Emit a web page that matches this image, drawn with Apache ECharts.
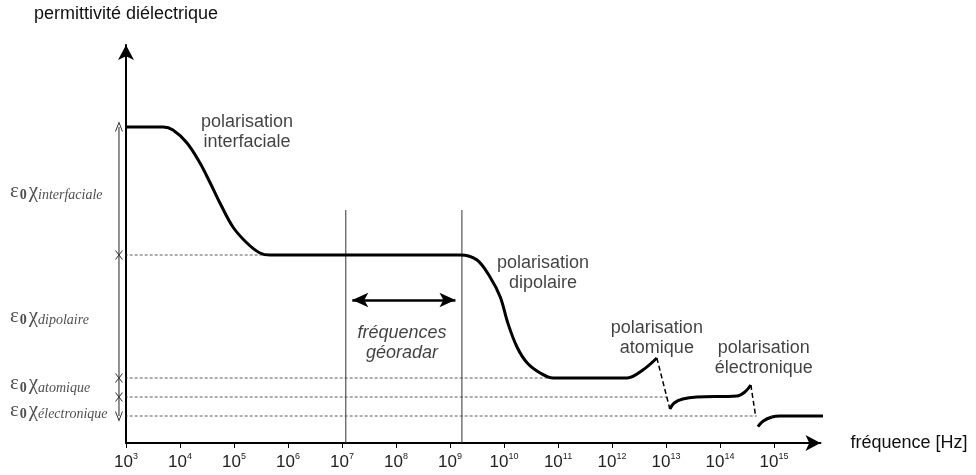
<!DOCTYPE html>
<html><head><meta charset="utf-8">
<script src="https://cdn.jsdelivr.net/npm/echarts@6/dist/echarts.min.js"></script>
<style>html,body{margin:0;padding:0;background:#fff}#c{width:976px;height:475px}</style>
</head><body><div id="c"></div><script>
// x values are log10(frequency in Hz)
const exponents = [3, 4, 5, 6, 7, 8, 9, 10, 11, 12, 13, 14, 15];
const levelNames = ['interfaciale', 'dipolaire', 'atomique', 'électronique'];
const levelValues = [79, 47, 16.25, 11.5, 6.75];
const levelLineEnds = [3, 9.19, 10.8, 13.07, 14.68];
const mainCurveX = [3, 3.69, 3.87, 4.13, 4.37, 4.56, 4.74, 4.98, 5.24, 5.48, 5.67, 9.19, 9.5, 9.74, 9.93, 10.07, 10.24, 10.43, 10.67, 10.91, 12.28, 12.57, 12.83];
const mainCurveY = [79, 79, 78.25, 75, 70, 65, 60, 54, 50, 47.5, 47, 47, 45.75, 41.5, 36.5, 30, 24, 20, 17.5, 16.25, 16.25, 18.25, 21.25];
const atomicDropX = [12.83, 13.07];
const atomicDropY = [21.25, 8.5];
const electronicCurveX = [13.07, 13.15, 13.31, 13.57, 14.31, 14.46, 14.57];
const electronicCurveY = [8.5, 10, 11, 11.5, 11.75, 12.75, 14.5];
const electronicDropX = [14.57, 14.66];
const electronicDropY = [14.5, 6.6];
const finalCurveX = [14.7, 14.8, 14.96, 15.11, 15.94];
const finalCurveY = [4.1, 5.5, 6.5, 6.75, 6.75];
const georadarX = [7.07, 9.22];
const georadarTop = 58.25;
const georadarArrowY = 35.75;
const annotationTexts = ['polarisation\ninterfaciale', 'polarisation\ndipolaire', 'polarisation\natomique', 'polarisation\nélectronique', 'fréquences\ngéoradar'];

const seg = (xs, ys) => xs.map((x, i) => [x, ys[i]]);
const mids = levelNames.map((_, i) => (levelValues[i] + levelValues[i + 1]) / 2);
const SANS = 'Liberation Sans, Arial, sans-serif';
const SERIF = 'Liberation Serif, Times New Roman, serif';

const curveStyle = { color: '#000', width: 3 };
const series = [];
function addLine(data, lineStyle, extra) {
  series.push(Object.assign({ type: 'line', data, symbol: 'none', clip: false, silent: true, lineStyle, animation: false }, extra || {}));
}
addLine(seg(mainCurveX, mainCurveY), curveStyle, { smooth: 0.35, z: 5 });
addLine(seg(atomicDropX, atomicDropY), { color: '#000', width: 1.5, type: [5, 3] }, { z: 5 });
addLine(seg(electronicCurveX, electronicCurveY), curveStyle, { smooth: 0.35, z: 5 });
addLine(seg(electronicDropX, electronicDropY), { color: '#000', width: 1.5, type: [5, 3] }, { z: 5 });
addLine(seg(finalCurveX, finalCurveY), curveStyle, { smooth: 0.35, z: 5 });
levelValues.forEach((v, i) => {
  addLine([[2.79, v], [levelLineEnds[i], v]], { color: '#333', width: 0.8, type: [3, 2] }, { z: 2 });
});
// dimension line on the left, with its marks
const dimX = 2.87;
const lastLevel = levelValues[levelValues.length - 1];
series.push({
  type: 'custom', clip: false, silent: true, animation: false, z: 3,
  data: [[dimX, levelValues[0], lastLevel]],
  renderItem: (params, api) => {
    const p1 = api.coord([api.value(0), api.value(1)]);
    const p2 = api.coord([api.value(0), api.value(2)]);
    return { type: 'line', shape: { x1: p1[0], y1: p1[1], x2: p2[0], y2: p2[1] }, style: { stroke: '#222', lineWidth: 1 } };
  }
});
const xMark = 'path://M0,0L10,12M10,0L0,12';
series.push({
  type: 'scatter', clip: false, silent: true, animation: false, z: 4,
  data: levelValues.map((v, i) => ({
    value: [dimX, v],
    symbol: i === 0 ? 'path://M0,12L5,0L10,12' : (i === levelValues.length - 1 ? 'path://M0,0L5,12L10,0' : xMark)
  })),
  symbolSize: [7, 9],
  itemStyle: { color: 'rgba(0,0,0,0)', borderColor: '#222', borderWidth: 0.9, opacity: 1 }
});
georadarX.forEach(x => addLine([[x, 0], [x, georadarTop]], { color: '#333', width: 1 }, { z: 2 }));
series.push({
  type: 'line', data: [], silent: true, animation: false,
  markLine: {
    silent: true, animation: false,
    symbol: ['arrow', 'arrow'], symbolSize: [11, 16],
    label: { show: false },
    lineStyle: { color: '#000', width: 2.5, type: 'solid' },
    data: [[{ coord: [georadarX[0] + 0.12, georadarArrowY] }, { coord: [georadarX[1] - 0.12, georadarArrowY] }]]
  }
});
const annPos = [[5.24, 77.75], [10.72, 42.5], [12.83, 26.25], [14.81, 21.25], [8.11, 25]];
series.push({
  type: 'scatter', symbolSize: 0, silent: true, animation: false, clip: false,
  data: annotationTexts.map((t, i) => ({ value: annPos[i], name: t })),
  label: {
    show: true, position: 'inside', formatter: p => p.name,
    fontFamily: SANS, fontSize: 18, lineHeight: 20, color: '#111',
  }
});
series[series.length - 1].data[4].label = { fontStyle: 'italic' };
// ε0χ labels between the levels, left of the axis
const labelAnchorX = 0.85;
const labelY = [mids[0], mids[1], mids[2] + 0.9, mids[3] - 0.9];
series.push({
  type: 'scatter', symbolSize: 0, silent: true, animation: false, clip: false,
  data: levelNames.map((n, i) => ({ value: [labelAnchorX, labelY[i]], name: n })),
  label: {
    show: true, position: 'inside', align: 'left',
    formatter: p => '{e|ε}{z|0}{c|χ}{s|' + p.name + '}',
    rich: {
      e: { fontFamily: SERIF, fontSize: 21, color: '#222', lineHeight: 22 },
      z: { fontFamily: SERIF, fontSize: 14, fontWeight: 'bold', color: '#222', verticalAlign: 'bottom', lineHeight: 17, padding: [0, 2, 0, 1] },
      c: { fontFamily: SERIF, fontSize: 21, color: '#222', lineHeight: 22 },
      s: { fontFamily: SERIF, fontSize: 14, fontStyle: 'italic', color: '#222', verticalAlign: 'bottom', lineHeight: 17 }
    }
  },
  labelLayout: { hideOverlap: false }
});

const chart = echarts.init(document.getElementById('c'), null, { renderer: 'canvas' });
chart.setOption({
  animation: false,
  backgroundColor: '#fff',
  grid: { left: 126, right: 155.5, top: 45, bottom: 32, containLabel: false },
  xAxis: {
    type: 'value', min: 3, max: 15.86,
    name: 'fréquence [Hz]', nameLocation: 'end', nameGap: 30,
    nameTextStyle: { fontFamily: SANS, fontSize: 18, color: '#111', verticalAlign: 'middle', padding: [0, 0, 4, 0] },
    axisLine: { show: true, symbol: ['none', 'arrow'], symbolSize: [12, 15], lineStyle: { color: '#000', width: 2 } },
    axisTick: { show: true, length: 5, customValues: exponents, lineStyle: { color: '#000', width: 1 } },
    splitLine: { show: false },
    axisLabel: {
      customValues: exponents, margin: 9, hideOverlap: false,
      formatter: v => '{b|10}{p|' + v + '}',
      rich: {
        b: { fontFamily: SANS, fontSize: 17, color: '#222', lineHeight: 20 },
        p: { fontFamily: SANS, fontSize: 9, color: '#222', verticalAlign: 'top', lineHeight: 20 }
      }
    }
  },
  yAxis: {
    type: 'value', min: 0, max: 99.5,
    name: 'permittivité diélectrique', nameLocation: 'end', nameGap: 22,
    nameTextStyle: { fontFamily: SANS, fontSize: 18, color: '#111', align: 'center' },
    axisLine: { show: true, symbol: ['none', 'arrow'], symbolSize: [12, 15], lineStyle: { color: '#000', width: 2 } },
    axisTick: { show: false },
    splitLine: { show: false },
    axisLabel: { show: false }
  },
  series
});
</script></body></html>
